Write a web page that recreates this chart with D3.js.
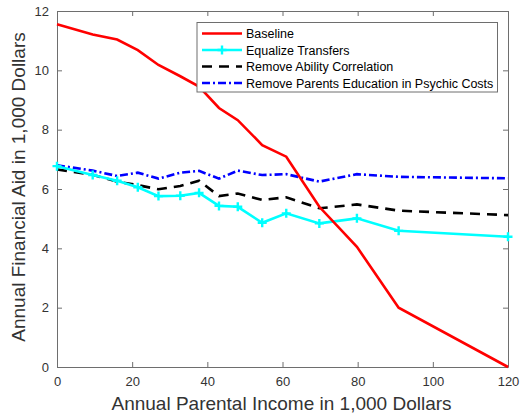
<!DOCTYPE html>
<html>
<head>
<meta charset="utf-8">
<script src="https://cdn.jsdelivr.net/npm/d3@7"></script>
<style>
  body { margin: 0; background: #fff; }
  text { font-family: "Liberation Sans", Arial, sans-serif; }
</style>
</head>
<body>
<div id="chart"></div>
<script>
// parental income bins (1,000 $)
var income = [0, 9.5, 16, 21.5, 27, 32.8, 37.8, 43.1, 48.1, 54.6, 61, 69.8, 79.8, 90.9, 120];

var baseline   = [11.55, 11.21, 11.04, 10.68, 10.18, 9.8, 9.45, 8.73, 8.32, 7.48, 7.09, 5.40, 4.05, 2.0, 0.0];
var equalize   = [6.77, 6.47, 6.28, 6.06, 5.76, 5.77, 5.87, 5.43, 5.40, 4.86, 5.18, 4.84, 5.01, 4.59, 4.39];
var removeAb   = [6.66, 6.48, 6.25, 6.13, 5.99, 6.10, 6.28, 5.76, 5.85, 5.63, 5.72, 5.35, 5.48, 5.27, 5.12];
var removePar  = [6.80, 6.62, 6.44, 6.55, 6.35, 6.55, 6.61, 6.35, 6.62, 6.47, 6.50, 6.25, 6.50, 6.41, 6.36];

var seriesNames = ["Baseline", "Equalize Transfers", "Remove Ability Correlation", "Remove Parents Education in Psychic Costs"];
var xTicks = [0, 20, 40, 60, 80, 100, 120];
var yTicks = [0, 2, 4, 6, 8, 10, 12];

var margin = {top: 11, right: 13, bottom: 52, left: 57};
var width = 521 - margin.left - margin.right;
var height = 419 - margin.top - margin.bottom;

var svg = d3.select("#chart")
  .append("svg")
    .attr("width", 521)
    .attr("height", 419)
  .append("g")
    .attr("transform", "translate(" + margin.left + "," + margin.top + ")");

var x = d3.scaleLinear().domain([0, 120]).range([0, width]);
var y = d3.scaleLinear().domain([0, 12]).range([height, 0]);

var axisColor = "#6e6e6e";
var textColor = "#333";

function styleAxis(g) {
  g.select(".domain").attr("stroke", axisColor);
  g.selectAll(".tick line").attr("stroke", axisColor);
  g.selectAll(".tick text").attr("fill", textColor).style("font-size", "13px")
    .style("font-family", "'Liberation Sans', Arial, sans-serif");
}

svg.append("g")
  .attr("transform", "translate(0," + height + ")")
  .call(d3.axisBottom(x).tickValues(xTicks).tickSize(-5).tickPadding(9.5).tickSizeOuter(0))
  .call(styleAxis);

svg.append("g")
  .call(d3.axisLeft(y).tickValues(yTicks).tickSize(-5).tickPadding(8).tickSizeOuter(0))
  .call(styleAxis);

// box: top and right with inward ticks
svg.append("g")
  .call(d3.axisTop(x).tickValues(xTicks).tickSize(-5).tickSizeOuter(0).tickFormat(""))
  .call(styleAxis);
svg.append("g")
  .attr("transform", "translate(" + width + ",0)")
  .call(d3.axisRight(y).tickValues(yTicks).tickSize(-5).tickSizeOuter(0).tickFormat(""))
  .call(styleAxis);

svg.append("text")
  .attr("x", width / 2 - 1)
  .attr("y", height + 43)
  .attr("text-anchor", "middle")
  .attr("fill", textColor)
  .style("font-size", "19px")
  .text("Annual Parental Income in 1,000 Dollars");

svg.append("text")
  .attr("transform", "rotate(-90)")
  .attr("x", -height / 2 + 2)
  .attr("y", -margin.left + 25)
  .attr("text-anchor", "middle")
  .attr("fill", textColor)
  .style("font-size", "19px")
  .text("Annual Financial Aid in 1,000 Dollars");

var series = [
  {name: seriesNames[0], values: baseline,  color: "#ff0000", dash: null},
  {name: seriesNames[1], values: equalize,  color: "#00ffff", dash: null, marker: true},
  {name: seriesNames[2], values: removeAb,  color: "#000000", dash: "10,7"},
  {name: seriesNames[3], values: removePar, color: "#0000ff", dash: "8,3,2,3"}
];

var line = d3.line()
  .x(function(d) { return x(d[0]) })
  .y(function(d) { return y(d[1]) });

// draw order: dashed ones first, cyan, then red on top
[3, 2, 1, 0].forEach(function(i) {
  var s = series[i];
  var pts = income.map(function(v, j) { return [v, s.values[j]] });
  svg.append("path")
    .datum(pts)
    .attr("fill", "none")
    .attr("stroke", s.color)
    .attr("stroke-width", 2.6)
    .attr("stroke-dasharray", s.dash)
    .attr("d", line);
  if (s.marker) {
    svg.append("g")
      .selectAll("path")
      .data(pts)
      .enter()
      .append("path")
      .attr("d", function(d) {
        var cx = x(d[0]), cy = y(d[1]);
        return "M" + (cx - 4.5) + "," + cy + "H" + (cx + 4.5) + "M" + cx + "," + (cy - 4.5) + "V" + (cy + 4.5);
      })
      .attr("stroke", s.color)
      .attr("stroke-width", 2.4);
  }
});

// legend
var lg = svg.append("g").attr("transform", "translate(" + (197 - margin.left) + "," + (22.5 - margin.top) + ")");
lg.append("rect")
  .attr("width", 300.5)
  .attr("height", 69.5)
  .attr("fill", "#fff")
  .attr("stroke", axisColor);

series.forEach(function(s, i) {
  var yy = 11 + i * 16.5;
  lg.append("line")
    .attr("x1", 5).attr("x2", 45)
    .attr("y1", yy).attr("y2", yy)
    .attr("stroke", s.color)
    .attr("stroke-width", 2.6)
    .attr("stroke-dasharray", s.dash);
  if (s.marker) {
    lg.append("path")
      .attr("d", "M20.5," + yy + "H29.5M25," + (yy - 4.5) + "V" + (yy + 4.5))
      .attr("stroke", s.color)
      .attr("stroke-width", 2.4);
  }
  lg.append("text")
    .attr("x", 49)
    .attr("y", yy + 4.5)
    .attr("fill", "#000")
    .style("font-size", "12.5px")
    .text(s.name);
});
</script>
</body>
</html>
